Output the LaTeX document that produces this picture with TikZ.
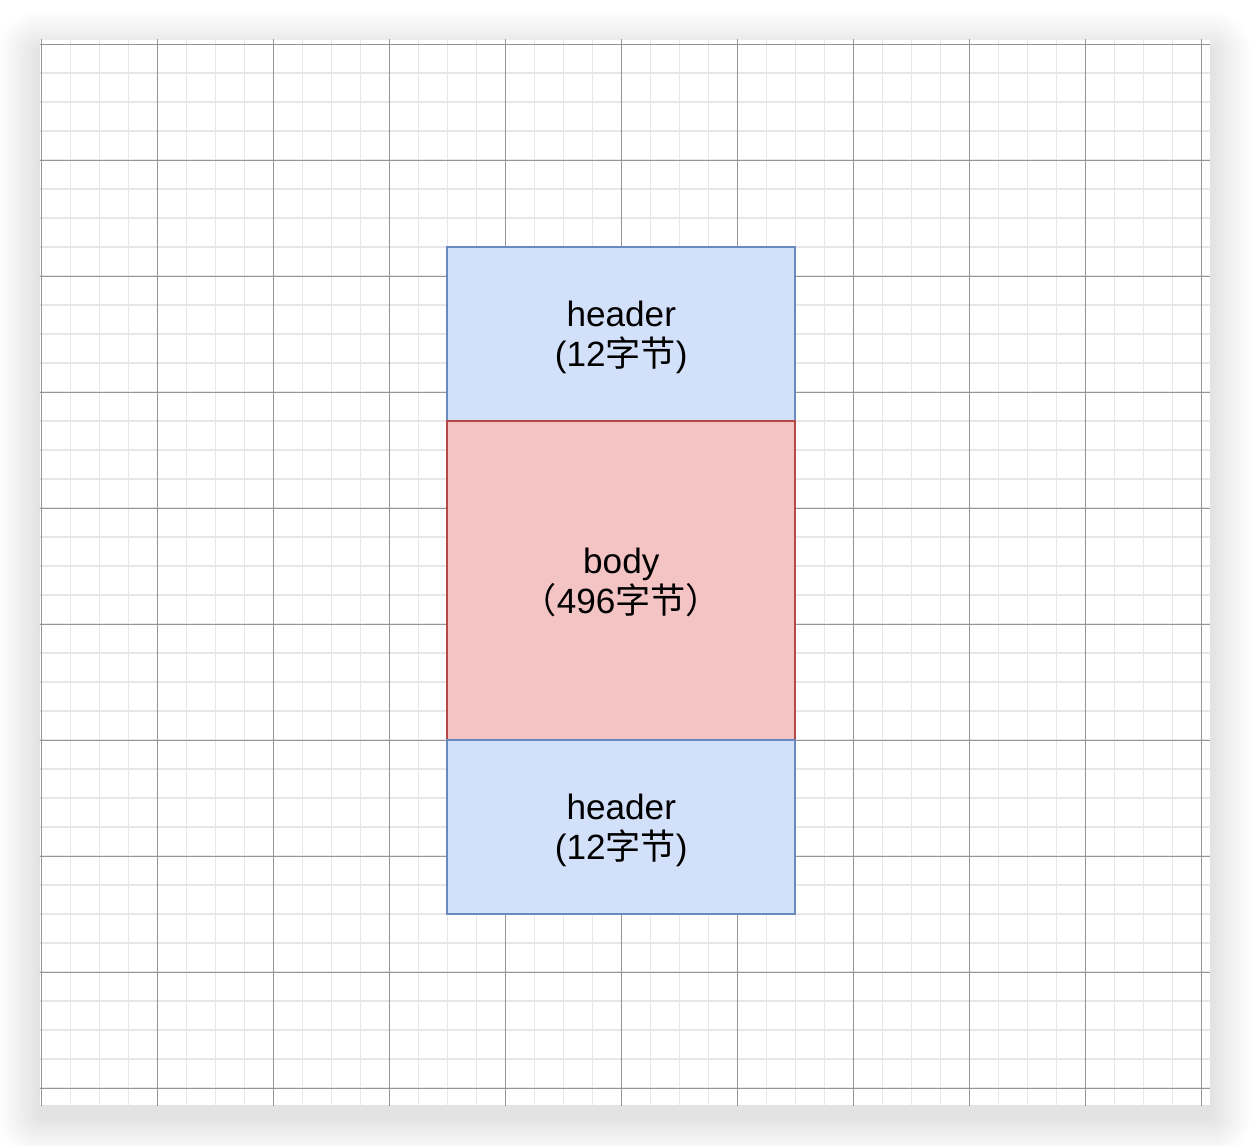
\documentclass[tikz,border=0pt]{standalone}
\usepackage{fontspec}
\setmainfont{Liberation Sans}
\newfontfamily\cjk{Noto Sans CJK SC}
\usepackage{tikz}
\usetikzlibrary{positioning}

\definecolor{hdrfill}{RGB}{210,224,250}
\definecolor{hdrline}{RGB}{104,138,190}
\definecolor{bodyfill}{RGB}{244,195,195}
\definecolor{bodyline}{RGB}{180,72,70}
\definecolor{minorgray}{RGB}{232,230,234}
\definecolor{majorgray}{RGB}{150,148,152}

\tikzset{
  minorline/.style={draw=minorgray,line width=0.85pt},
  majorline/.style={draw=majorgray,line width=0.55pt},
  blockbox/.style={shape=rectangle,outer sep=0pt,line width=1.1pt,align=center,
    minimum width=6.96cm,text depth=0pt,font=\fontsize{20}{23}\selectfont},
  hdrbox/.style={blockbox,draw=hdrline,fill=hdrfill,minimum height=3.48cm},
  bodybox/.style={blockbox,draw=bodyline,fill=bodyfill,minimum height=6.38cm}
}

\begin{document}
\begin{tikzpicture}[x=0.58cm,y=-0.58cm]

\useasboundingbox[fill=white] (-1.424,-1.517) rectangle (41.68,38.0);

% shadow of the sheet
\foreach \r in {0.1,0.2,...,1.4}
  \fill[black,opacity=0.007,rounded corners=\r*0.58cm]
    (-0.045-\r,0.3-\r) rectangle (40.3+\r,36.95+\r);
\fill[white] (-0.045,-0.14) rectangle (40.3,36.6);

% grid
\begin{scope}
\clip (-0.045,-0.14) rectangle (40.3,36.6);
\foreach \i in {1,...,40} \draw[minorline] (\i,-0.2) -- (\i,36.7);
\foreach \j in {1,...,36} \draw[minorline] (-0.1,\j) -- (40.4,\j);
\foreach \i in {0,4,...,40} \draw[majorline] (\i,-0.2) -- (\i,36.7);
\foreach \j in {0,4,...,36} \draw[majorline] (-0.1,\j) -- (40.4,\j);
\end{scope}

\node[hdrbox] (hdrtop) at (20,10) {header\\(12{\cjk 字节})};
\node[bodybox,below=0pt of hdrtop] (body) {body\\{\cjk （}496{\cjk 字节）}};
\node[hdrbox,below=0pt of body] (hdrbot) {header\\(12{\cjk 字节})};

\end{tikzpicture}
\end{document}
